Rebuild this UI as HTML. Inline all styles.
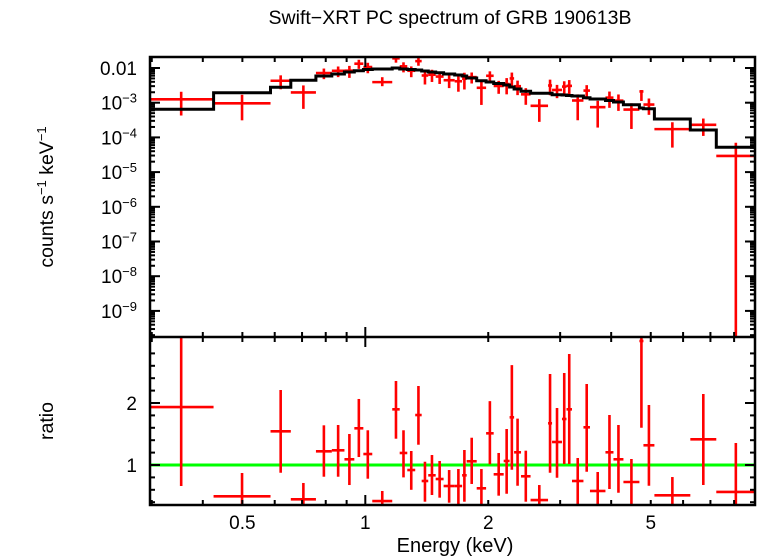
<!DOCTYPE html>
<html><head><meta charset="utf-8"><style>
body{margin:0;background:#fff}
svg{display:block;font-family:"Liberation Sans",sans-serif}
</style></head><body>
<svg id="chart" width="758" height="556" viewBox="0 0 758 556">
<defs>
<clipPath id="cTop"><rect x="150" y="57" width="605" height="280"/></clipPath>
<clipPath id="cBot"><rect x="150" y="337" width="605" height="168"/></clipPath>
</defs>
<text x="450" y="24" text-anchor="middle" font-size="19.5">Swift−XRT PC spectrum of GRB 190613B</text>
<text x="455" y="552" text-anchor="middle" font-size="20">Energy (keV)</text>
<text transform="translate(53,197) rotate(-90)" text-anchor="middle" font-size="19.5">counts s<tspan baseline-shift="super" font-size="13">−1</tspan> keV<tspan baseline-shift="super" font-size="13">−1</tspan></text>
<text transform="translate(53,421) rotate(-90)" text-anchor="middle" font-size="19.5">ratio</text>
<g id="gTop" clip-path="url(#cTop)"></g>
<g id="gBot" clip-path="url(#cBot)"></g>
<g id="gAxes"></g>
</svg>
<script>
const eEdges=[0.295,0.425,0.586,0.657,0.757,0.828,0.889,0.940,0.989,1.040,1.164,1.214,1.267,1.325,1.374,1.426,1.487,1.555,1.655,1.726,1.771,1.874,1.976,2.062,2.182,2.256,2.314,2.406,2.539,2.802,2.866,3.031,3.109,3.207,3.421,3.549,3.873,4.052,4.286,4.690,4.798,5.104,6.250,7.235,9.02];
const modelVals=[6.46e-4,1.94e-3,2.78e-3,4.43e-3,5.88e-3,6.72e-3,7.67e-3,8.36e-3,9.06e-3,9.35e-3,1.0e-2,9.35e-3,9.06e-3,8.75e-3,8.20e-3,7.67e-3,7.33e-3,6.72e-3,6.28e-3,5.88e-3,5.15e-3,4.31e-3,3.95e-3,3.57e-3,3.24e-3,2.83e-3,2.48e-3,2.13e-3,1.87e-3,1.87e-3,1.70e-3,1.67e-3,1.61e-3,1.56e-3,1.39e-3,1.28e-3,1.16e-3,1.05e-3,8.75e-4,7.03e-4,6.71e-4,3.39e-4,1.63e-4,5.19e-5];
const ratioVals=[1.935,0.495,1.544,0.447,1.221,1.237,1.092,1.592,1.177,0.419,1.898,1.194,0.919,1.806,0.742,0.834,0.774,0.661,0.661,0.834,1.06,0.624,1.511,0.85,1.065,1.769,1.205,0.818,0.435,1.673,1.371,1.742,1.898,0.742,1.608,0.581,1.205,1.092,0.726,3.0,1.318,0.511,1.415,0.565];
const ratioHi=[3.2,0.871,2.21,0.71,1.64,1.645,1.50,2.065,1.56,0.581,2.355,1.56,1.226,2.274,1.053,1.161,1.065,0.919,0.935,1.242,1.44,0.935,2.03,1.194,1.58,2.61,1.747,1.231,0.677,2.468,1.919,2.484,2.79,1.113,2.306,0.887,1.806,1.645,1.097,3.3,1.968,0.806,2.145,1.355];
const ratioLo=[0.661,0.16,0.876,0.15,0.811,0.811,0.677,1.129,0.779,0.32,1.424,0.80,0.60,1.327,0.408,0.516,0.473,0.392,0.33,0.408,0.694,0.2,1.011,0.505,0.537,0.924,0.666,0.408,0.15,0.876,0.795,1.016,1.016,0.2,0.892,0.15,0.613,0.553,0.2,1.60,0.666,0.15,0.677,0];
const xTicksMajor=[1];
const xTicksMinor=[0.3,0.4,0.5,0.6,0.7,0.8,0.9,2,3,4,5,6,7,8,9];
const xLabels=[0.5,1,2,5];
const yTopDecades=[-2,-3,-4,-5,-6,-7,-8,-9];
const ratioLabels=[1,2];

const NS="http://www.w3.org/2000/svg";
const L=150,R=755,T=57,MID=337,B=505;
const xmin=0.297,xmax=9.0;
const X=e=>L+(Math.log10(e)-Math.log10(xmin))/(Math.log10(xmax)-Math.log10(xmin))*(R-L);
const YT=v=>68+(-2-Math.log10(v))*34.7;
const YB=r=>465-(r-1)*62;
function mk(tag,at,parent){const el=document.createElementNS(NS,tag);for(const k in at)el.setAttribute(k,at[k]);parent.appendChild(el);return el;}
const gTop=document.getElementById('gTop'),gBot=document.getElementById('gBot'),gAx=document.getElementById('gAxes');

const gl=mk('line',{x1:L,x2:R,y1:YB(1),y2:YB(1),stroke:'#00ff00','stroke-width':3},gBot);



for(let i=0;i<ratioVals.length;i++){
  const x0=X(eEdges[i]),x1=X(eEdges[i+1]),xc=X(Math.sqrt(eEdges[i]*eEdges[i+1]));
  const m=modelVals[i];
  const gt=mk('g',{stroke:'#ff0000','stroke-width':2.6,fill:'none'},gTop);
  
  
  const yc=YT(m*ratioVals[i]);
  mk('line',{x1:x0,x2:x1,y1:yc,y2:yc},gt);
  const lo=ratioLo[i]>0?YT(m*ratioLo[i]):MID+5;
  mk('line',{x1:xc,x2:xc,y1:YT(m*ratioHi[i]),y2:lo},gt);
  const gb=mk('g',{stroke:'#ff0000','stroke-width':2.6,fill:'none'},gBot);
  
  
  const yr=YB(ratioVals[i]);
  mk('line',{x1:x0,x2:x1,y1:yr,y2:yr},gb);
  mk('line',{x1:xc,x2:xc,y1:YB(ratioHi[i]),y2:YB(ratioLo[i])},gb);
}
let d='';
for(let i=0;i<modelVals.length;i++){
  const x0=X(eEdges[i]),x1=X(eEdges[i+1]),y=YT(modelVals[i]);
  d+=(i===0?'M':'L')+x0.toFixed(1)+','+y.toFixed(1)+'L'+x1.toFixed(1)+','+y.toFixed(1);
}
const mp=mk('path',{d:d,stroke:'#000','stroke-width':3,fill:'none'},gTop);



const fr=mk('g',{stroke:'#000','stroke-width':2.5,fill:'none'},gAx);


mk('rect',{x:L,y:T,width:R-L,height:B-T},fr);
mk('line',{x1:L,x2:R,y1:MID,y2:MID},fr);
const tk=mk('g',{stroke:'#000','stroke-width':2},gAx);


function xt(e,len){const x=X(e);
  [[T,1],[MID,-1],[MID,1],[B,-1]].forEach(([y,s])=>mk('line',{x1:x,x2:x,y1:y,y2:y+s*len},tk));}
xTicksMajor.forEach(e=>xt(e,10));
xTicksMinor.forEach(e=>{if(X(e)>L+1)xt(e,5);});
xLabels.forEach(e=>{const t=mk('text',{x:X(e),y:529,'text-anchor':'middle','font-size':19,fill:'#000'},gAx);t.textContent=String(e);
  
  });
const yk=mk('g',{stroke:'#000','stroke-width':2},gAx);


for(let dcd=-10;dcd<=-1;dcd++){
  for(let k=1;k<=9;k++){
    const v=k*Math.pow(10,dcd),y=YT(v);
    if(y<T+1||y>MID-1)continue;
    const len=k===1?10:5;
    mk('line',{x1:L,x2:L+len,y1:y,y2:y},yk);
    mk('line',{x1:R,x2:R-len,y1:y,y2:y},yk);
  }
}
yTopDecades.forEach(dc=>{
  const y=YT(Math.pow(10,dc))+7;
  const t=mk('text',{x:137,y:y,'text-anchor':'end','font-size':19,fill:'#000'},gAx);
  
  
  if(dc===-2){t.textContent='0.01';}
  else{t.innerHTML='10<tspan baseline-shift="super" font-size="13">−'+(-dc)+'</tspan>';}
});
const rk=mk('g',{stroke:'#000','stroke-width':2},gAx);


for(let r=0.4;r<3.0;r+=0.2){
  const y=YB(r);const maj=Math.abs(r-1)<0.01||Math.abs(r-2)<0.01;const len=maj?10:5;
  mk('line',{x1:L,x2:L+len,y1:y,y2:y},rk);
  mk('line',{x1:R,x2:R-len,y1:y,y2:y},rk);
}
ratioLabels.forEach(r=>{const t=mk('text',{x:137,y:YB(r)+7,'text-anchor':'end','font-size':19,fill:'#000'},gAx);t.textContent=String(r);
  
  });
</script>
</body></html>
